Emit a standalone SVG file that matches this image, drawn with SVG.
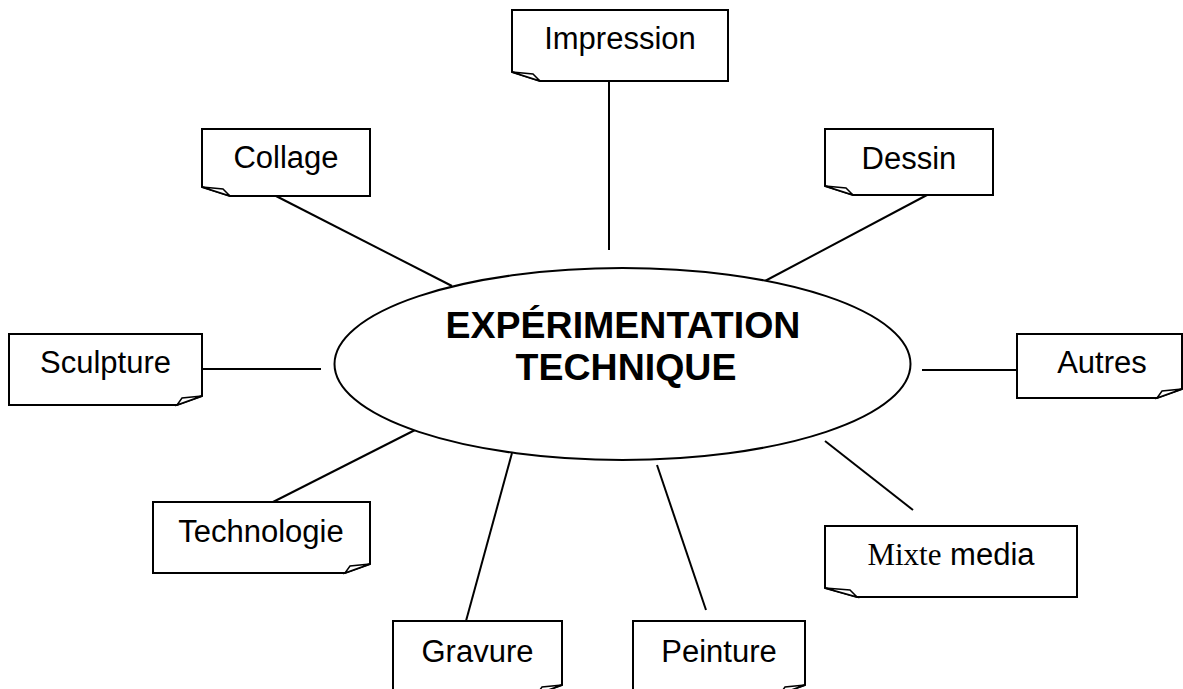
<svg xmlns="http://www.w3.org/2000/svg" width="1183" height="689" viewBox="0 0 1183 689">
<style>
.box{fill:#fff;stroke:#000;stroke-width:2;stroke-linejoin:miter}
.fold{fill:#fff;stroke:#000;stroke-width:1.5;stroke-linejoin:miter}
.lbl{font-family:"Liberation Sans",Arial,sans-serif;font-size:31px;fill:#000;text-anchor:middle}
.conn line{stroke:#000;stroke-width:2}
.title{font-family:"Liberation Sans",Arial,sans-serif;font-size:37.5px;font-weight:bold;fill:#000;text-anchor:middle}
</style>
<rect width="1183" height="689" fill="#fff"/>
<g id="connectors" class="conn">
<line x1="609" y1="81" x2="609" y2="250"/>
<line x1="276" y1="196" x2="452" y2="286"/>
<line x1="927" y1="195" x2="765" y2="281"/>
<line x1="202" y1="369" x2="321" y2="369"/>
<line x1="922" y1="370" x2="1017" y2="370"/>
<line x1="273" y1="502" x2="415" y2="430"/>
<line x1="466" y1="621" x2="512" y2="453"/>
<line x1="657" y1="465" x2="706" y2="610"/>
<line x1="825" y1="441" x2="913" y2="510"/>
</g>
<g id="center">
<ellipse cx="622.5" cy="364" rx="288" ry="96" fill="#fff" stroke="#000" stroke-width="2"/>
<text class="title" x="623" y="338">EXPÉRIMENTATION</text>
<text class="title" x="626" y="380">TECHNIQUE</text>
</g>
<g id="impression">
<path class="box" d="M512,10 H728 V81 H540 L512,72 Z"/>
<path class="fold" d="M512,72 L533,74 L540,81 Z"/>
<text class="lbl" x="620" y="49">Impression</text>
</g>
<g id="collage">
<path class="box" d="M202,129 H370 V196 H230 L202,187 Z"/>
<path class="fold" d="M202,187 L223,189 L230,196 Z"/>
<text class="lbl" x="286" y="168">Collage</text>
</g>
<g id="dessin">
<path class="box" d="M825,129 H993 V195 H853 L825,186 Z"/>
<path class="fold" d="M825,186 L846,188 L853,195 Z"/>
<text class="lbl" x="909" y="169">Dessin</text>
</g>
<g id="sculpture">
<path class="box" d="M9,334 H202 V396 L177,405 H9 Z"/>
<path class="fold" d="M202,396 L182,398 L177,405 Z"/>
<text class="lbl" x="105.5" y="373">Sculpture</text>
</g>
<g id="autres">
<path class="box" d="M1017,334 H1182 V389 L1157,398 H1017 Z"/>
<path class="fold" d="M1182,389 L1162,391 L1157,398 Z"/>
<text class="lbl" x="1102" y="373">Autres</text>
</g>
<g id="technologie">
<path class="box" d="M153,502 H370 V564 L345,573 H153 Z"/>
<path class="fold" d="M370,564 L350,566 L345,573 Z"/>
<text class="lbl" x="261" y="542">Technologie</text>
</g>
<g id="mixte-media">
<path class="box" d="M825,526 H1077 V597 H857 L825,588 Z"/>
<path class="fold" d="M825,588 L850,590 L857,597 Z"/>
<text class="lbl" x="951" y="565"><tspan font-family="'Liberation Serif','Times New Roman',serif">Mixte</tspan> media</text>
</g>
<g id="gravure">
<path class="box" d="M393,621 H562 V685 L537,694 H393 Z"/>
<path class="fold" d="M562,685 L542,687 L537,694 Z"/>
<text class="lbl" x="477.5" y="662">Gravure</text>
</g>
<g id="peinture">
<path class="box" d="M633,621 H805 V685 L780,694 H633 Z"/>
<path class="fold" d="M805,685 L785,687 L780,694 Z"/>
<text class="lbl" x="719" y="662">Peinture</text>
</g>
</svg>
